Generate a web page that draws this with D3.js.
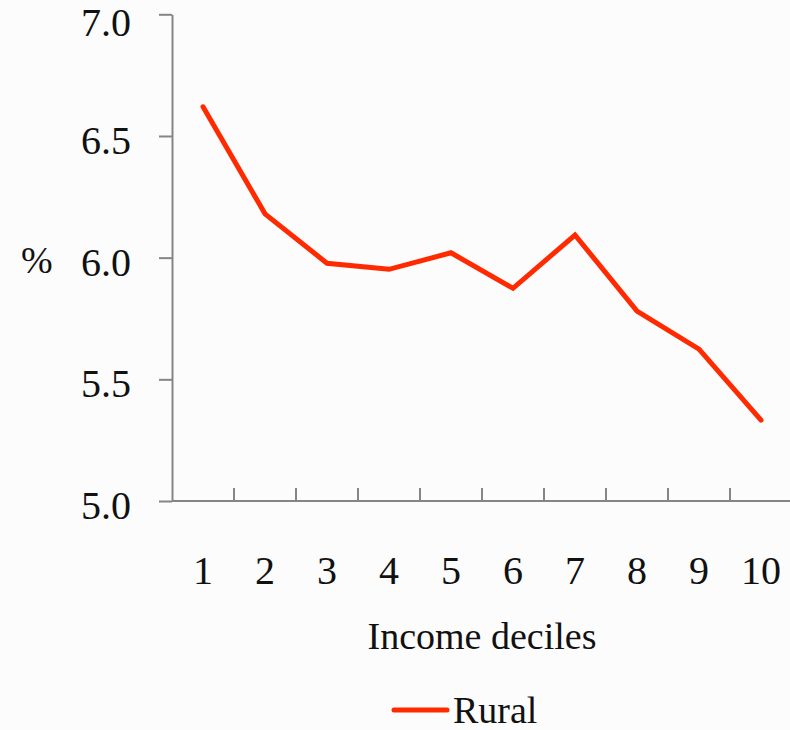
<!DOCTYPE html>
<html>
<head>
<meta charset="utf-8">
<script src="https://cdn.jsdelivr.net/npm/d3@7"></script>
<style>
  html, body { margin: 0; padding: 0; background: #fcfcfc; }
  svg { display: block; }
  text { font-family: "Liberation Serif", "DejaVu Serif", serif; fill: #111; }
</style>
</head>
<body>
<svg id="chart" width="790" height="730"></svg>
<script>
// ---- data ----
const deciles = ["1", "2", "3", "4", "5", "6", "7", "8", "9", "10"];
const rural = [6.62, 6.18, 5.977, 5.952, 6.02, 5.874, 6.093, 5.78, 5.624, 5.332];
const yTicks = [5.0, 5.5, 6.0, 6.5, 7.0];
const seriesName = "Rural";
const xTitle = "Income deciles";
const yTitle = "%";

// ---- layout ----
const svg = d3.select("#chart");
const plotLeft = 172, plotRight = 792, plotTop = 14.3, plotBottom = 501;
const lineColor = "#ff2a00";
const axisColor = "#858585";

const x = d3.scaleBand().domain(deciles).range([plotLeft, plotRight]).paddingInner(0).paddingOuter(0);
const y = d3.scaleLinear().domain([5, 7]).range([plotBottom, plotTop]);

// y axis
const yAxis = d3.axisLeft(y).tickValues(yTicks).tickFormat(d3.format(".1f"))
  .tickSize(13).tickSizeOuter(0).tickPadding(28);
const gy = svg.append("g").attr("transform", `translate(${plotLeft},0)`).call(yAxis);
gy.select(".domain").attr("stroke", axisColor).attr("stroke-width", 2);
gy.selectAll(".tick line").attr("stroke", axisColor).attr("stroke-width", 2);
gy.selectAll(".tick text").attr("font-size", 40)
  .attr("dy", d => d === 7 ? "0.54em" : "0.44em").style("fill", "#111")
  .attr("font-family", '"Liberation Serif", serif');

// x axis line
svg.append("line").attr("x1", plotLeft).attr("x2", 790).attr("y1", plotBottom).attr("y2", plotBottom)
  .attr("stroke", axisColor).attr("stroke-width", 2);
// x boundary ticks (pointing up)
svg.append("g").selectAll("line").data(deciles.slice(1)).join("line")
  .attr("x1", d => x(d)).attr("x2", d => x(d))
  .attr("y1", plotBottom).attr("y2", plotBottom - 13)
  .attr("stroke", axisColor).attr("stroke-width", 2);
// x labels
const xAxis = d3.axisBottom(x).tickSize(0).tickSizeOuter(0);
const gx = svg.append("g").attr("transform", `translate(0,${plotBottom})`).call(xAxis);
gx.select(".domain").remove();
gx.selectAll(".tick text").attr("font-size", 40).attr("y", 83).attr("dy", 0).style("fill", "#111")
  .attr("font-family", '"Liberation Serif", serif');

// y title
svg.append("text").attr("x", 21).attr("y", 273).attr("font-size", 38).text(yTitle);

// x title
svg.append("text").attr("x", (plotLeft + plotRight) / 2).attr("y", 649)
  .attr("text-anchor", "middle").attr("font-size", 38).text(xTitle);

// line
const line = d3.line().x((d, i) => x(deciles[i]) + x.bandwidth() / 2).y(d => y(d));
svg.append("path").datum(rural).attr("d", line)
  .attr("fill", "none").attr("stroke", lineColor).attr("stroke-width", 5)
  .attr("stroke-linejoin", "miter").attr("stroke-linecap", "round");

// legend
svg.append("line").attr("x1", 394).attr("x2", 447).attr("y1", 710).attr("y2", 710)
  .attr("stroke", lineColor).attr("stroke-width", 5).attr("stroke-linecap", "round");
svg.append("text").attr("x", 453).attr("y", 723).attr("font-size", 38).text(seriesName);
</script>
</body>
</html>
